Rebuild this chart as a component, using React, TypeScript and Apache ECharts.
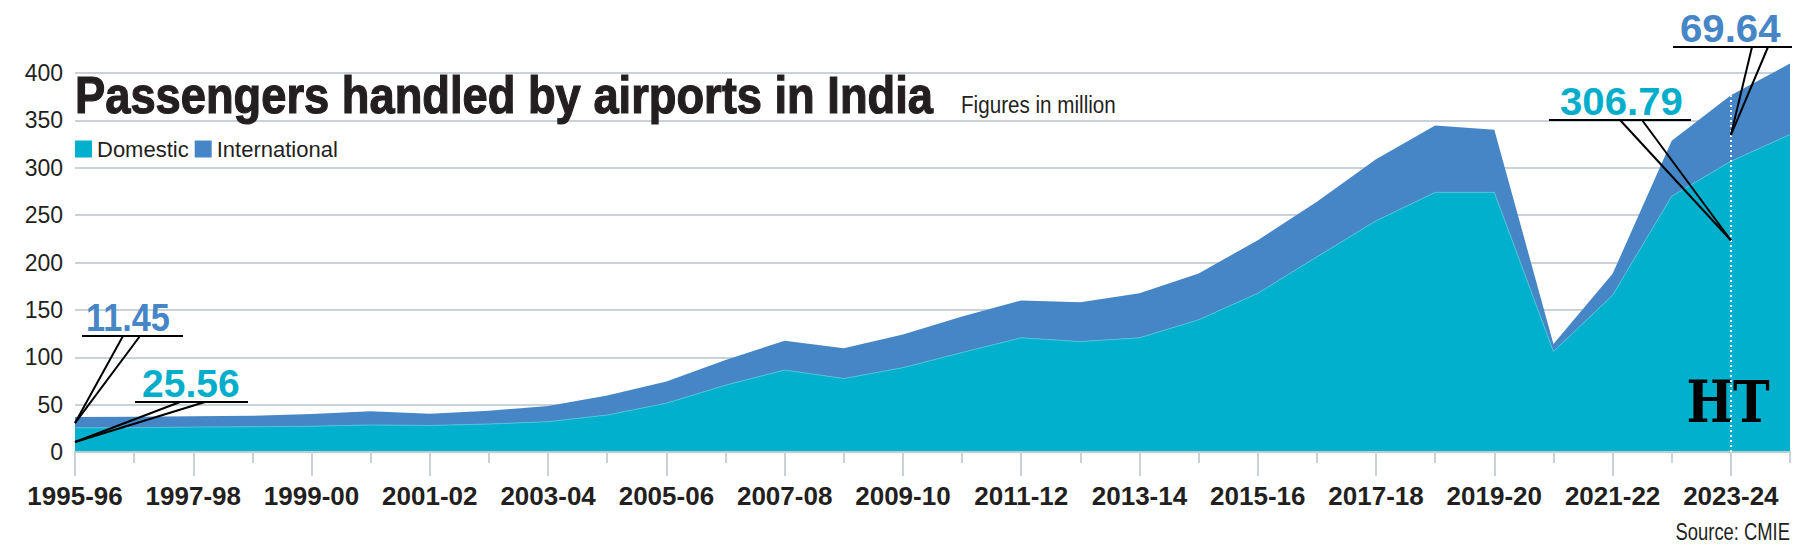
import React, { useEffect, useRef } from "react";
import * as echarts from "echarts";

const years = [
  "1995-96", "1996-97", "1997-98", "1998-99", "1999-00", "2000-01", "2001-02", "2002-03",
  "2003-04", "2004-05", "2005-06", "2006-07", "2007-08", "2008-09", "2009-10", "2010-11",
  "2011-12", "2012-13", "2013-14", "2014-15", "2015-16", "2016-17", "2017-18", "2018-19",
  "2019-20", "2020-21", "2021-22", "2022-23", "2023-24", "2024-25",
];

const domestic = [
  25.56, 25.6, 26.3, 26.6, 27.2, 28.5, 28.0, 29.5,
  32.0, 39.0, 51.5, 70.5, 86.5, 77.5, 89.0, 105.0,
  120.5, 116.5, 120.5, 139.5, 167.5, 206.0, 244.0, 274.0,
  274.0, 106.0, 165.5, 270.0, 306.79, 335.0,
];

const international = [
  11.45, 11.5, 11.4, 11.6, 12.8, 14.5, 12.5, 14.0,
  16.5, 20.5, 23.0, 26.5, 31.0, 32.0, 35.0, 38.0,
  39.5, 41.5, 47.0, 49.0, 56.0, 58.0, 65.0, 70.5,
  66.0, 8.0, 22.5, 58.5, 69.64, 75.0,
];

const yMin = 0;
const yMax = 400;
const yInterval = 50;

const titleText = "Passengers handled by airports in India";
const subtitleText = "Figures in million";
const sourceText = "Source: CMIE";

const DOM = "#00b0cc";
const INTL = "#4686c6";
const INK = "#231f20";
const GRID = "#c9d3d7";
const FONT = "'Liberation Sans', Arial, sans-serif";

export default function App() {
  const ref = useRef<HTMLDivElement>(null);

  useEffect(() => {
    document.body.style.margin = "0";
    const chart = echarts.init(ref.current!, null, { renderer: "svg" });
    const hlIdx = years.indexOf("2023-24");
    chart.setOption({
      animation: false,
      backgroundColor: "#ffffff",
      legend: {
        left: 75,
        top: 138,
        padding: 0,
        itemWidth: 17,
        itemHeight: 17,
        itemGap: 6,
        icon: "rect",
        textStyle: { fontSize: 22, color: INK, fontFamily: FONT },
        data: ["Domestic", "International"],
      },
      grid: { left: 75, right: 19, top: 73, bottom: 99, containLabel: false },
      xAxis: [
        {
          type: "category",
          data: years,
          boundaryGap: false,
          position: "bottom",
          axisLine: { show: true, lineStyle: { color: "#b7cbd3", width: 2 } },
          axisTick: { show: true, length: 11, interval: 0, lineStyle: { color: GRID, width: 2 } },
          axisLabel: { show: false },
          splitLine: { show: false },
          z: 3,
        },
        {
          type: "category",
          data: years,
          boundaryGap: false,
          position: "bottom",
          axisLine: { show: false },
          axisTick: { show: true, length: 24, interval: 1, lineStyle: { color: GRID, width: 2 } },
          axisLabel: {
            show: true,
            interval: 1,
            margin: 31,
            fontSize: 26,
            fontWeight: "bold",
            color: INK,
            fontFamily: FONT,
          },
          splitLine: { show: false },
        },
      ],
      yAxis: {
        type: "value",
        min: yMin,
        max: yMax,
        interval: yInterval,
        axisLine: { show: false },
        axisTick: { show: false },
        axisLabel: { margin: 12, fontSize: 23, color: INK, fontFamily: FONT },
        splitLine: { show: true, lineStyle: { color: GRID, width: 2 } },
      },
      series: [
        {
          name: "Domestic",
          type: "line",
          stack: "total",
          data: domestic,
          symbol: "none",
          clip: false,
          color: DOM,
          lineStyle: { width: 1, color: "#4cc4da" },
          areaStyle: { color: DOM, opacity: 1 },
          z: 2,
        },
        {
          name: "International",
          type: "line",
          stack: "total",
          data: international,
          symbol: "none",
          clip: false,
          color: INTL,
          lineStyle: { width: 0 },
          areaStyle: { color: INTL, opacity: 1 },
          z: 2,
          markLine: {
            silent: true,
            symbol: "none",
            label: { show: false },
            lineStyle: { color: "#ffffff", type: [2, 3], width: 2 },
            data: [
              [
                { coord: [years[hlIdx], 0] },
                { coord: [years[hlIdx], domestic[hlIdx] + international[hlIdx]] },
              ],
            ],
          },
        },
      ],
    });

    const px = (i: number, v: number) =>
      chart.convertToPixel({ xAxisIndex: 0, yAxisIndex: 0 }, [years[i], v]) as number[];

    // callout anchors (data space)
    const a1 = px(0, 30.5); // international 1995-96
    const a2 = px(0, 10.5); // domestic 1995-96
    const a3 = px(hlIdx, 334.5); // international 2023-24
    const a4 = px(hlIdx, 223.5); // domestic 2023-24

    const callout = (
      anchor: number[],
      label: string,
      color: string,
      hx1: number,
      hx2: number,
      hy: number,
      d1: number,
      d2: number,
      tx: number,
      tyBottom: number,
      sx: number
    ) => [
      {
        type: "line",
        z: 20,
        shape: { x1: hx1, y1: hy, x2: hx2, y2: hy },
        style: { stroke: "#000", lineWidth: 2 },
      },
      {
        type: "line",
        z: 20,
        shape: { x1: d1, y1: hy, x2: anchor[0], y2: anchor[1] },
        style: { stroke: "#000", lineWidth: 2 },
      },
      {
        type: "line",
        z: 20,
        shape: { x1: d2, y1: hy, x2: anchor[0], y2: anchor[1] },
        style: { stroke: "#000", lineWidth: 2 },
      },
      {
        type: "text",
        z: 20,
        x: tx,
        y: tyBottom,
        scaleX: sx,
        style: {
          text: label,
          fill: color,
          font: `bold 39px ${FONT}`,
          textAlign: "left",
          textVerticalAlign: "bottom",
        },
      },
    ];

    chart.setOption({
      graphic: [
        {
          type: "text",
          z: 20,
          x: 75,
          y: 95,
          scaleX: 0.888,
          style: {
            text: titleText,
            fill: INK,
            stroke: INK,
            lineWidth: 1.2,
            font: `bold 51px ${FONT}`,
            textAlign: "left",
            textVerticalAlign: "middle",
          },
        },
        {
          type: "text",
          z: 20,
          x: 961,
          y: 104.5,
          scaleX: 0.86,
          style: {
            text: subtitleText,
            fill: INK,
            font: `24px ${FONT}`,
            textAlign: "left",
            textVerticalAlign: "middle",
          },
        },
        ...callout(a1, "11.45", INTL, 82, 183, 336, 123, 140, 86, 337, 0.88),
        ...callout(a2, "25.56", "#00aecb", 135, 248, 402, 180, 205, 142, 403, 1),
        ...callout(a3, "69.64", INTL, 1673, 1792, 47, 1752, 1768, 1680, 48, 1.03),
        ...callout(a4, "306.79", "#00aecb", 1549, 1691, 120, 1620, 1642, 1560, 121, 1.03),
        {
          type: "text",
          z: 3,
          x: 1728,
          y: 402,
          scaleX: 0.85,
          style: {
            text: "HT",
            fill: "#000",
            font: `bold 58px 'DejaVu Serif', serif`,
            textAlign: "center",
            textVerticalAlign: "middle",
          },
        },
        {
          type: "text",
          z: 20,
          x: 1790,
          y: 532,
          scaleX: 0.8,
          style: {
            text: sourceText,
            fill: INK,
            font: `23px ${FONT}`,
            textAlign: "right",
            textVerticalAlign: "middle",
          },
        },
      ],
    });

    return () => chart.dispose();
  }, []);

  return <div ref={ref} style={{ width: 1809, height: 551 }} />;
}
